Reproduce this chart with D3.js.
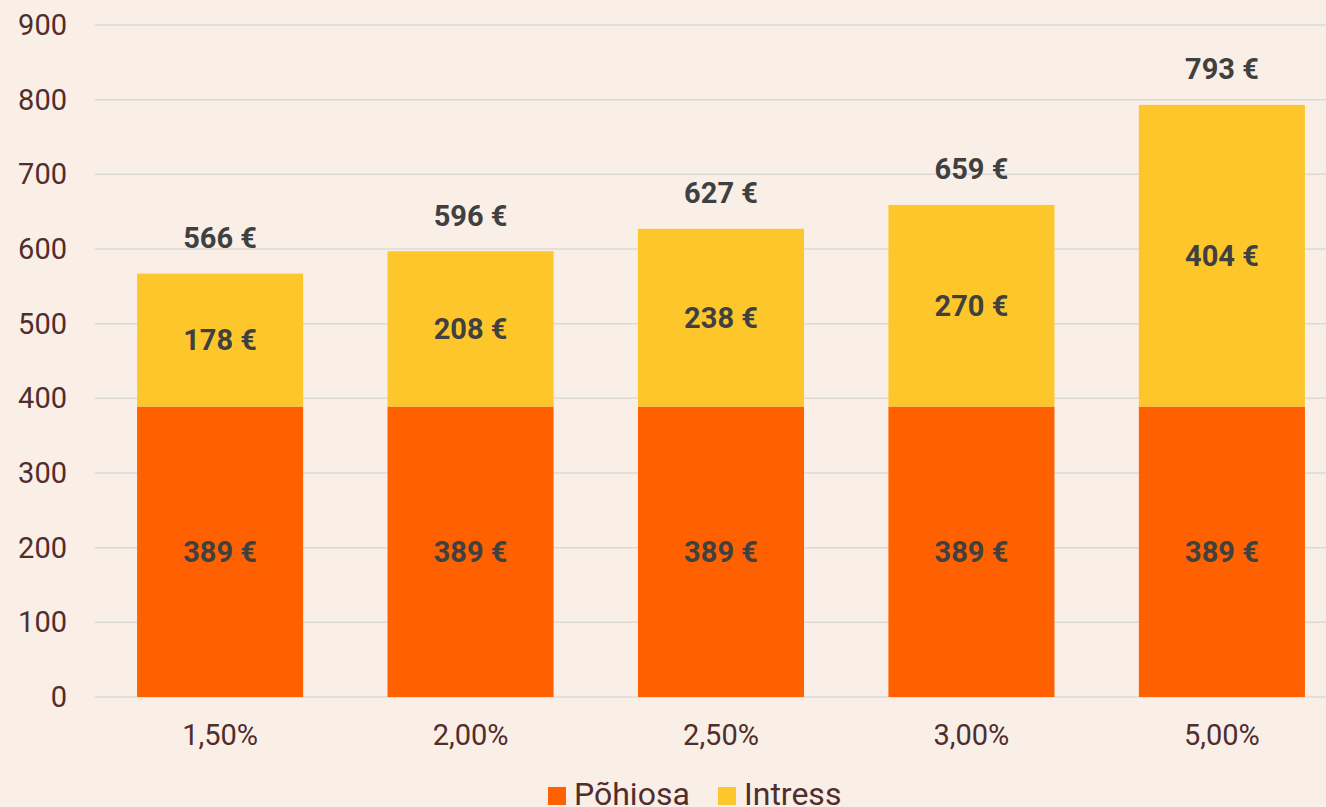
<!DOCTYPE html>
<html>
<head>
<meta charset="utf-8">
<script src="https://cdn.jsdelivr.net/npm/d3@7"></script>
<style>
  html, body { margin: 0; padding: 0; background: #f9efe6; }
  svg { display: block; font-family: Roboto, sans-serif; }
</style>
</head>
<body>
<svg id="chart" width="1326" height="807"></svg>
<script>
// rates on the x axis
const rates = ['1,50%', '2,00%', '2,50%', '3,00%', '5,00%'];
// monthly principal and interest (EUR)
const principal = [389, 389, 389, 389, 389];
const interest = [178, 208, 238, 270, 404];
const totals = [566, 596, 627, 659, 793];
const yTicks = [0, 100, 200, 300, 400, 500, 600, 700, 800, 900];
const seriesNames = ['Põhiosa', 'Intress'];
const colors = ['#ff6000', '#fdc72c'];

const svg = d3.select('#chart');
const plotLeft = 95, plotRight = 1347, plotTop = 25, plotBottom = 697;

const x = d3.scaleBand().domain(rates).range([plotLeft, plotRight]).paddingInner(0.337).paddingOuter(0.168);
const y = d3.scaleLinear().domain([0, 900]).range([plotBottom, plotTop]);

// gridlines
svg.append('g')
  .selectAll('line')
  .data(yTicks)
  .join('line')
  .attr('x1', plotLeft).attr('x2', 1326)
  .attr('y1', d => y(d)).attr('y2', d => y(d))
  .attr('stroke', '#dcdad6')
  .attr('stroke-width', 1.5);

// y tick labels
svg.append('g')
  .selectAll('text')
  .data(yTicks)
  .join('text')
  .attr('x', 67)
  .attr('y', d => y(d))
  .attr('dy', '0.35em')
  .attr('text-anchor', 'end')
  .attr('fill', '#512d2d')
  .attr('font-size', 29)
  .text(d => d);

// stacked data
const rows = rates.map((r, i) => ({ rate: r, p: principal[i], n: interest[i], total: totals[i] }));
const stack = d3.stack().keys(['p', 'n'])(rows);

const layers = svg.append('g')
  .selectAll('g')
  .data(stack)
  .join('g')
  .attr('fill', (d, i) => colors[i]);

layers.selectAll('rect')
  .data(d => d)
  .join('rect')
  .attr('x', d => x(d.data.rate))
  .attr('width', x.bandwidth())
  .attr('y', d => y(d[1]))
  .attr('height', d => y(d[0]) - y(d[1]));

// segment labels
layers.selectAll('text')
  .data(d => d)
  .join('text')
  .attr('x', d => x(d.data.rate) + x.bandwidth() / 2)
  .attr('y', d => (y(d[0]) + y(d[1])) / 2)
  .attr('dy', '0.35em')
  .attr('text-anchor', 'middle')
  .attr('fill', '#404040')
  .attr('font-weight', 'bold')
  .attr('font-size', 29)
  .text(d => (d[1] - d[0]) + ' €');

// totals above bars
svg.append('g')
  .selectAll('text')
  .data(rows)
  .join('text')
  .attr('x', d => x(d.rate) + x.bandwidth() / 2)
  .attr('y', d => y(d.total) - 26)
  .attr('text-anchor', 'middle')
  .attr('fill', '#404040')
  .attr('font-weight', 'bold')
  .attr('font-size', 29)
  .text(d => d.total + ' €');

// x labels
svg.append('g')
  .selectAll('text')
  .data(rates)
  .join('text')
  .attr('x', d => x(d) + x.bandwidth() / 2)
  .attr('y', 745)
  .attr('text-anchor', 'middle')
  .attr('fill', '#512d2d')
  .attr('font-size', 29)
  .text(d => d);

// legend
const legendX = [548, 718];
const legend = svg.append('g')
  .selectAll('g')
  .data(seriesNames)
  .join('g')
  .attr('transform', (d, i) => `translate(${legendX[i]},0)`);
legend.append('rect')
  .attr('x', 0).attr('y', 787)
  .attr('width', 18).attr('height', 18)
  .attr('fill', (d, i) => colors[i]);
legend.append('text')
  .attr('x', 26).attr('y', 805)
  .attr('fill', '#512d2d')
  .attr('font-size', 32)
  .text(d => d);
</script>
</body>
</html>
